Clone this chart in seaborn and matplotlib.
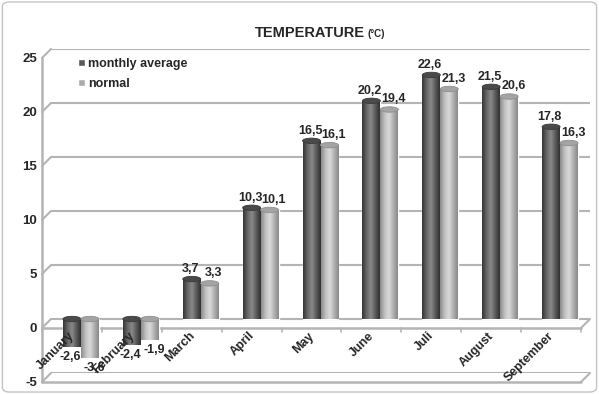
import numpy as np
import pandas as pd
import matplotlib
matplotlib.use("Agg")
import matplotlib.pyplot as plt
import seaborn as sns
from matplotlib.transforms import ScaledTranslation
from matplotlib.colors import LinearSegmentedColormap
from matplotlib.patches import Ellipse, FancyBboxPatch

months = ["January", "February", "March", "April", "May", "June", "Juli", "August", "September"]
monthly_average = [-2.6, -2.4, 3.7, 10.3, 16.5, 20.2, 22.6, 21.5, 17.8]
normal = [-3.6, -1.9, 3.3, 10.1, 16.1, 19.4, 21.3, 20.6, 16.3]
series_names = ["monthly average", "normal"]
y_ticks = [-5, 0, 5, 10, 15, 20, 25]

df = pd.DataFrame({
    "month": months * 2,
    "value": monthly_average + normal,
    "series": [series_names[0]] * len(months) + [series_names[1]] * len(months),
})

sns.set_theme(style="white")
plt.rcParams["font.family"] = ["Liberation Sans", "DejaVu Sans"]
plt.rcParams["axes.unicode_minus"] = False

grid_c = "#b4b4b4"
fig = plt.figure(figsize=(5.99, 3.94), dpi=100)
ax = fig.add_axes([51 / 599, 1 - 373 / 394, 539 / 599, 324 / 394])

sns.barplot(data=df, x="month", y="value", hue="series", palette=["#5a5a5a", "#ababab"],
            saturation=1, width=0.6, errorbar=None, ax=ax, zorder=3)

# cylinder look: gradient clipped to each bar + elliptic cap
cmaps = [
    LinearSegmentedColormap.from_list("dk", ["#353535", "#666666", "#8a8a8a", "#5a5a5a", "#303030"]),
    LinearSegmentedColormap.from_list("lt", ["#8a8a8a", "#c0c0c0", "#dadada", "#b0b0b0", "#888888"]),
]
caps = [("#4a4a4a", "#3a3a3a"), ("#a4a4a4", "#8e8e8e")]
grad = np.linspace(0, 1, 64).reshape(1, -1)
for cont, cmap, (fc, ec) in zip(ax.containers, cmaps, caps):
    for bar in cont:
        x0, w = bar.get_x(), bar.get_width()
        y0, h = bar.get_y(), bar.get_height()
        im = ax.imshow(grad, cmap=cmap, extent=[x0, x0 + w, min(y0, y0 + h), max(y0, y0 + h)],
                       aspect="auto", interpolation="bicubic", zorder=4)
        im.set_clip_path(bar)
        top = max(y0, y0 + h)
        ax.add_patch(Ellipse((x0 + w / 2, top), w, 0.5, fc=fc, ec=ec, lw=0.6, zorder=5))

# data labels with comma decimals
for i, cont in enumerate(ax.containers):
    labs = ax.bar_label(cont, labels=[f"{v:.1f}".replace(".", ",") for v in cont.datavalues],
                        padding=3, fontsize=9, fontweight="bold", zorder=6)
    dx = -1 if i == 0 else 3
    for lab in labs:
        lab.xyann = (dx, lab.xyann[1])

ax.set_xlim(-0.5, len(months) - 0.5)
ax.set_ylim(y_ticks[0], y_ticks[-1])
ax.set_xlabel("")
ax.set_ylabel("")
ax.grid(axis="y", color=grid_c, lw=1.5)
ax.set_axisbelow(True)
for s in ax.spines.values():
    s.set_visible(False)

# front edges of the 3-D frame
dx_px, dy_px = -9, -9
shift = ScaledTranslation(dx_px / 100, dy_px / 100, fig.dpi_scale_trans)
front = ax.transData + shift
x_lo, x_hi = ax.get_xlim()
ax.plot([x_lo, x_lo], [y_ticks[0], y_ticks[-1]], transform=front, color=grid_c, lw=1.8, clip_on=False)
for v in (0, y_ticks[0]):
    ax.plot([x_lo, x_hi], [v, v], transform=front, color=grid_c, lw=1.8, clip_on=False)
    ax.annotate("", xy=(x_hi, v), xytext=(dx_px, dy_px), textcoords="offset pixels", annotation_clip=False,
                arrowprops=dict(arrowstyle="-", color=grid_c, lw=1.5, shrinkA=0, shrinkB=0))
for b in np.arange(x_lo, x_hi + 0.01, 1.0):
    ax.plot([b, b], [0, -0.4], transform=front, color=grid_c, lw=1.2, clip_on=False)
for v in y_ticks:
    ax.annotate("", xy=(x_lo, v), xytext=(dx_px, dy_px), textcoords="offset pixels", annotation_clip=False,
                arrowprops=dict(arrowstyle="-", color=grid_c, lw=1.5, shrinkA=0, shrinkB=0))

# tick labels
ax.set_yticks(y_ticks, labels=[str(v) for v in y_ticks], fontsize=9.5, fontweight="bold")
ax.tick_params(axis="y", length=0, pad=10)
for t in ax.get_yticklabels():
    t.set_transform(t.get_transform() + ScaledTranslation(0, -9 / 100, fig.dpi_scale_trans))
ax.set_xticks(range(len(months)))
ax.tick_params(axis="x", length=0, pad=0)
ax.set_xticklabels(months, rotation=45, ha="right", va="center", rotation_mode="anchor",
                   fontsize=9, fontweight="bold")
for t in ax.get_xticklabels():
    t.set_transform(t.get_transform() + ScaledTranslation(-8 / 100, 39 / 100, fig.dpi_scale_trans))
ax.xaxis.set_zorder(7)  # month names sit in front of the bars

# legend
handles, labels = ax.get_legend_handles_labels()
ax.legend(handles, labels, loc="upper left", bbox_to_anchor=(78 / 599, 1 - 58 / 394),
          bbox_transform=fig.transFigure, frameon=False, handlelength=0.55, handleheight=0.55,
          handletextpad=0.25, labelspacing=0.65, borderpad=0, borderaxespad=0,
          prop={"weight": "bold", "size": 9})

fig.text(365 / 599, 1 - 33 / 394, "TEMPERATURE", ha="right", va="center", fontsize=10.5, fontweight="bold")
fig.text(367 / 599, 1 - 34 / 394, "(°C)", ha="left", va="center", fontsize=7, fontweight="bold")

fig.add_artist(FancyBboxPatch((0.004, 0.005), 0.992, 0.99, boxstyle="round,pad=0,rounding_size=0.012",
                              transform=fig.transFigure, fill=False, ec="#c4c4c4", lw=1))

fig.savefig("out.png", dpi=100)
